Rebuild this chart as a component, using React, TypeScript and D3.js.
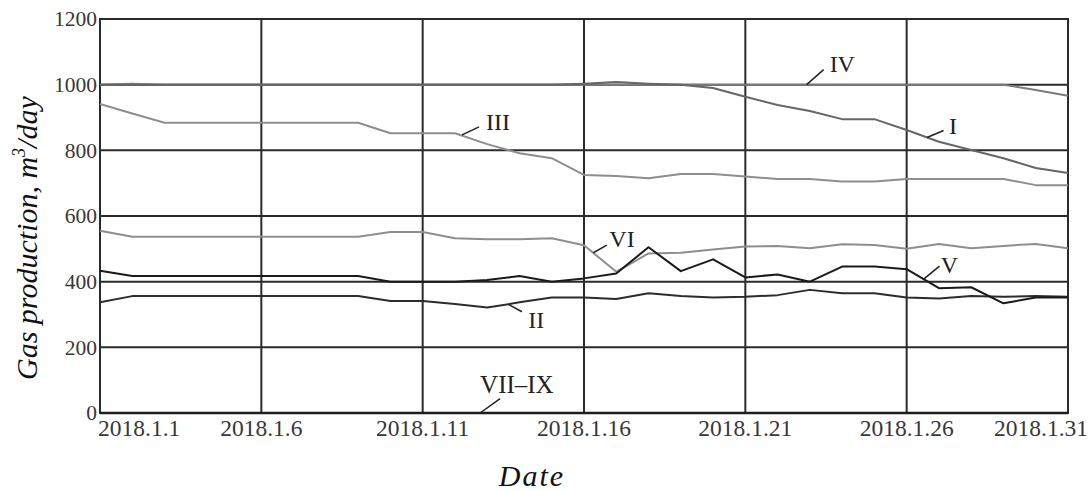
import React from "react";
import * as d3 from "d3";

const days = d3.range(1, 32);
const xTickDays = [1, 6, 11, 16, 21, 26, 31];
const xTickLabels = ["2018.1.1", "2018.1.6", "2018.1.11", "2018.1.16", "2018.1.21", "2018.1.26", "2018.1.31"];
const yTicks = [0, 200, 400, 600, 800, 1000, 1200];

const seriesI = [1000, 1000, 1000, 1000, 1000, 1000, 1000, 1000, 1000, 1000, 1000, 1000, 1000, 1000, 1000, 1003, 1008, 1003, 1000, 990, 963, 938, 920, 895, 895, 862, 826, 801, 776, 746, 731];
const seriesII = [337, 356, 356, 356, 356, 356, 356, 356, 356, 341, 341, 332, 321, 337, 352, 352, 347, 365, 356, 352, 354, 359, 375, 365, 365, 352, 349, 356, 354, 356, 354];
const seriesIII = [941, 912, 884, 884, 884, 884, 884, 884, 884, 852, 852, 852, 819, 791, 776, 725, 722, 715, 728, 728, 720, 713, 713, 705, 705, 713, 713, 713, 713, 694, 694];
const seriesIV = [1000, 1003, 1000, 1000, 1000, 1000, 1000, 1000, 1000, 1000, 1000, 1000, 1000, 1000, 1000, 1000, 1000, 1000, 1000, 1000, 1000, 1000, 1000, 1000, 1000, 1000, 1000, 1000, 1000, 984, 966];
const seriesV = [433, 417, 417, 417, 417, 417, 417, 417, 417, 400, 400, 400, 405, 417, 400, 410, 425, 505, 432, 468, 413, 422, 400, 446, 446, 438, 380, 383, 334, 352, 352];
const seriesVI = [555, 537, 537, 537, 537, 537, 537, 537, 537, 551, 551, 532, 529, 529, 532, 511, 430, 486, 488, 498, 507, 509, 502, 514, 512, 500, 515, 502, 509, 515, 502];
const seriesVIIIX = days.map(() => 0);

const seriesList = [
  { name: "VII–IX", values: seriesVIIIX, color: "#1e1e1e", width: 2.5 },
  { name: "IV", values: seriesIV, color: "#7c7c7c", width: 2 },
  { name: "III", values: seriesIII, color: "#8e8e8e", width: 2 },
  { name: "VI", values: seriesVI, color: "#8e8e8e", width: 2 },
  { name: "I", values: seriesI, color: "#666666", width: 2 },
  { name: "II", values: seriesII, color: "#2c2c2c", width: 2 },
  { name: "V", values: seriesV, color: "#1a1a1a", width: 2 },
];

// annotation anchors in data coords, offsets in px
const annotations = [
  { label: "IV", day: 22.9, value: 1000, lx: 17, ly: -15, tx: 23, ty: -12.5 },
  { label: "I", day: 26.63, value: 839, lx: 16.6, ly: -7, tx: 22, ty: -3.7 },
  { label: "III", day: 12.22, value: 847, lx: 17, ly: -8, tx: 24, ty: -5 },
  { label: "VI", day: 16.29, value: 488, lx: 13.4, ly: -7.7, tx: 16, ty: -6 },
  { label: "V", day: 26.52, value: 407, lx: 16, ly: -13.3, tx: 17.4, ty: -6.3 },
  { label: "II", day: 13.66, value: 331, lx: 13.4, ly: 7.4, tx: 19.7, ty: 23.7 },
  { label: "VII–IX", day: 12.78, value: 0, lx: 20, ly: -14.4, tx: 0, ty: -19.7 },
];

const W = 1092;
const H = 491;
const left = 100, right = 1068, top = 19, bottom = 413;

export default function App() {
  const x = d3.scaleLinear().domain([1, 31]).range([left, right]);
  const y = d3.scaleLinear().domain([0, 1200]).range([bottom, top]);
  const line = d3.line<number>().x((_, i) => x(days[i])).y((v) => y(v));
  const serif = "'Liberation Serif', 'Times New Roman', serif";
  const gridColor = "#2a2a2a";

  return (
    <div style={{ position: "absolute", left: 0, top: 0 }}>
      <svg width={W} height={H} style={{ display: "block", background: "#fff" }}>
        {/* grid */}
        {yTicks.map((t) => (
          <line key={"gy" + t} x1={left} x2={right} y1={y(t)} y2={y(t)} stroke={gridColor} strokeWidth={2} />
        ))}
        {xTickDays.map((d) => (
          <line key={"gx" + d} x1={x(d)} x2={x(d)} y1={top} y2={bottom} stroke={gridColor} strokeWidth={2} />
        ))}
        <rect x={left} y={top} width={right - left} height={bottom - top} fill="none" stroke={gridColor} strokeWidth={2} />

        {/* series */}
        {seriesList.map((s) => (
          <path key={s.name} d={line(s.values) || ""} fill="none" stroke={s.color} strokeWidth={s.width} strokeLinejoin="round" />
        ))}

        {/* y tick labels */}
        {yTicks.map((t) => (
          <text key={"yl" + t} x={left - 3} y={y(t)} dy="0.34em" textAnchor="end" fontFamily={serif} fontSize={21.5} fill="#383838">
            {t}
          </text>
        ))}
        {/* x tick labels */}
        {xTickDays.map((d, i) => {
          const first = i === 0;
          const last = i === xTickDays.length - 1;
          const px = first ? x(d) - 2 : last ? x(d) + 20 : x(d);
          return (
            <text key={"xl" + d} x={px} y={436} textAnchor={first ? "start" : last ? "end" : "middle"} fontFamily={serif} fontSize={23.5} fill="#383838">
              {xTickLabels[i]}
            </text>
          );
        })}

        {/* annotations */}
        {annotations.map((a) => {
          const ax = x(a.day);
          const ay = y(a.value);
          return (
            <g key={"an" + a.label}>
              <line x1={ax} y1={ay} x2={ax + a.lx} y2={ay + a.ly} stroke="#222" strokeWidth={1.5} />
              <text x={ax + a.tx} y={ay + a.ty} fontFamily={serif} fontSize={a.label === "VII–IX" ? 25 : 24} fill="#222">
                {a.label}
              </text>
            </g>
          );
        })}

        {/* axis titles */}
        <text x={532} y={486} textAnchor="middle" fontFamily={serif} fontStyle="italic" fontSize={30} letterSpacing={2} fill="#111">
          Date
        </text>
        <text transform="translate(37,380) rotate(-90)" textAnchor="start" fontFamily={serif} fontStyle="italic" fontSize={30} letterSpacing={0} fill="#111">
          <tspan>Gas production, m</tspan>
          <tspan fontSize={18} dy={-12}>3</tspan>
          <tspan dy={12}>/day</tspan>
        </text>
      </svg>
    </div>
  );
}
